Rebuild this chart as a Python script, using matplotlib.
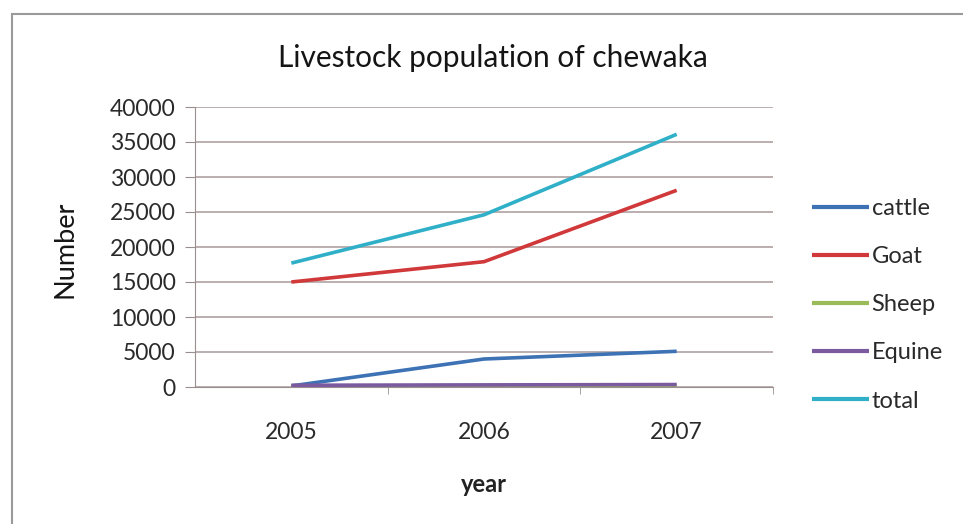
import matplotlib

matplotlib.use("Agg")
from matplotlib import pyplot as plt
from matplotlib.patches import Rectangle

plt.rcParams["font.family"] = ["Lato", "DejaVu Sans"]

years = ["2005", "2006", "2007"]
cattle = [150, 4000, 5100]
goat = [15000, 17900, 28100]
sheep = [150, 200, 250]
equine = [250, 300, 350]
total = [17700, 24600, 36100]

series_names = ["cattle", "Goat", "Sheep", "Equine", "total"]
series_values = [cattle, goat, sheep, equine, total]
series_colors = ["#3d72b4", "#d0383a", "#9bbb59", "#7b5aa0", "#2fb0c8"]

y_ticks = list(range(0, 40001, 5000))

figure = plt.figure(figsize=(9.63, 5.24), dpi=100)
figure.patches.append(
    Rectangle((12 / 963, -0.05), 1.2, 1 - 14 / 524 + 0.05,
              transform=figure.transFigure, fill=False,
              edgecolor="#9a9a9a", linewidth=1.5)
)

axis = figure.add_axes([195 / 963, 1 - 387 / 524, (773 - 195) / 963, (387 - 107) / 524])
x_positions = range(len(years))
for name, values, color in zip(series_names, series_values, series_colors):
    axis.plot(x_positions, values, color=color, linewidth=2.6,
              solid_capstyle="butt", label=name, zorder=3)

axis.set_xlim(-0.5, len(years) - 0.5)
axis.set_ylim(0, 40000)
axis.set_yticks(y_ticks)
axis.set_yticklabels([str(v) for v in y_ticks], fontsize=16.5, color="#2a2a2a")
axis.set_xticks(list(x_positions))
axis.set_xticklabels(years, fontsize=16.5, color="#2a2a2a")
axis.tick_params(axis="x", length=0, pad=25)
axis.tick_params(axis="y", length=7, color="#9a8f8f", pad=7)
axis.set_xticks([0.5, 1.5, 2.5], minor=True)
axis.tick_params(axis="x", which="minor", length=5, color="#9a8f8f")
axis.grid(axis="y", color="#a89898", linewidth=1.1)
axis.set_axisbelow(True)
for side in ["top", "right"]:
    axis.spines[side].set_visible(False)
axis.spines["left"].set_color("#9a8f8f")
axis.spines["bottom"].set_color("#9a8f8f")

figure.text((282 + 703) / 2 / 963, 1 - 67 / 524, "Livestock population of chewaka",
            fontsize=21.5, color="#151515", ha="center", va="baseline")
figure.text(65 / 963, 1 - 249 / 524, "Number", fontsize=19.5, color="#151515",
            rotation=90, ha="center", va="center")
figure.text(484 / 963, 1 - 484 / 524, "year", fontsize=17, fontweight="bold",
            color="#222222", ha="center", va="center")

legend = axis.legend(
    loc="upper left",
    bbox_to_anchor=(812 / 963, 1 - 198 / 524),
    bbox_transform=figure.transFigure,
    frameon=False,
    fontsize=17,
    handlelength=2.4,
    handletextpad=0.12,
    labelspacing=1.15,
    borderaxespad=0,
    borderpad=0,
)
for text in legend.get_texts():
    text.set_color("#2a2a2a")
for line in legend.get_lines():
    line.set_linewidth(3.0)

figure.savefig("out.png", dpi=100)
